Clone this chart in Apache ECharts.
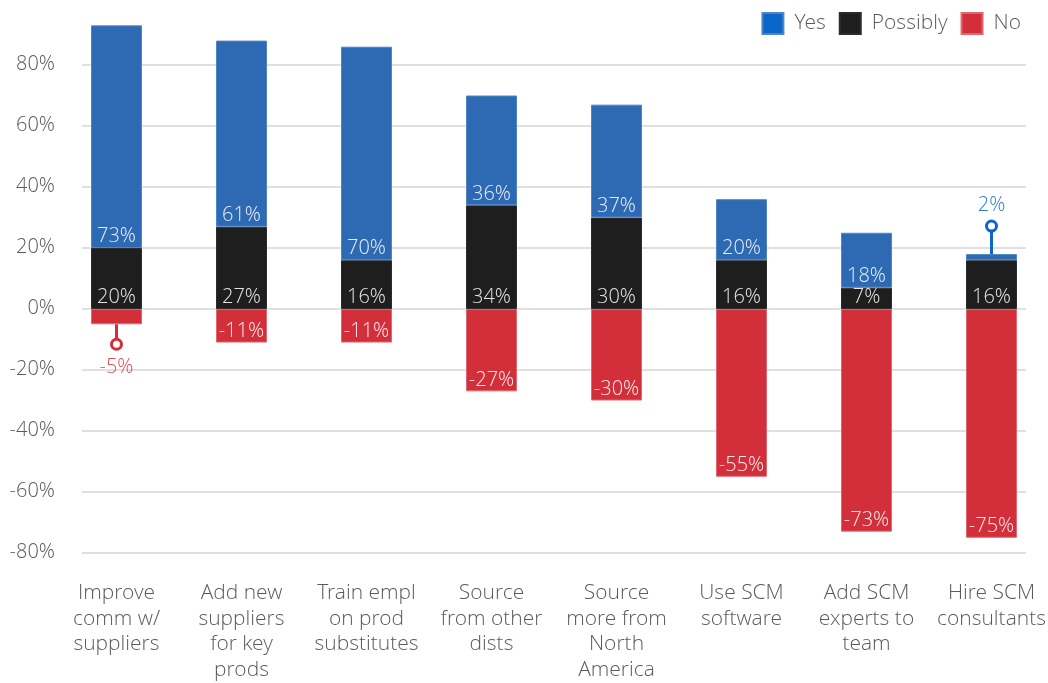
<!DOCTYPE html>
<html>
<head>
<meta charset="utf-8">
<title>Supply chain actions</title>
<script src="https://cdn.jsdelivr.net/npm/echarts@6/dist/echarts.min.js"></script>
<style>
  html, body { margin: 0; padding: 0; background: #fff; overflow: hidden; }
  /* canvas is a little wider than the window so the last category band can run past the edge */
  #chart { width: 1060px; height: 683px; }
</style>
</head>
<body>
<div id="chart"></div>
<script>
// Survey answers per planned action (percent of respondents)
const categories = [
  'Improve\ncomm w/\nsuppliers',
  'Add new\nsuppliers\nfor key\nprods',
  'Train empl\non prod\nsubstitutes',
  'Source\nfrom other\ndists',
  'Source\nmore from\nNorth\nAmerica',
  'Use SCM\nsoftware',
  'Add SCM\nexperts to\nteam',
  'Hire SCM\nconsultants'
];
const yesValues      = [73, 61, 70, 36, 37, 20, 18, 2];
const possiblyValues = [20, 27, 16, 34, 30, 16, 7, 16];
const noValues       = [-5, -11, -11, -27, -30, -55, -73, -75];
const yTicks = { min: -80, max: 80, interval: 20 };

const FONT = '"Open Sans Light", "Open Sans", "Noto Sans", sans-serif';
const C = {
  yes: '#2E6AB3', yesLegend: '#0A66C9', yesPin: '#0D66C8', yesPinText: '#2F80D8',
  possibly: '#1E1E1E',
  no: '#D32F3B', noPinText: '#E0505A',
  text: '#5a5a5a'
};
// segments too short to hold their label get a pin callout instead
const CALLOUT_MAX = 5;

const pct = v => v + '%';

function barData(values) {
  return values.map(v => ({
    value: v,
    label: { show: Math.abs(v) > CALLOUT_MAX }
  }));
}

// pin callouts built from the series values
const pinData = [];
noValues.forEach((v, i) => {
  if (Math.abs(v) <= CALLOUT_MAX) pinData.push({ value: [i, v, 1], text: pct(v), kind: 'no' });
});
yesValues.forEach((v, i) => {
  if (Math.abs(v) <= CALLOUT_MAX) pinData.push({ value: [i, possiblyValues[i] + v, -1], text: pct(v), kind: 'yes' });
});

const labelBase = {
  show: true,
  position: 'insideBottom',
  distance: 1,
  fontFamily: FONT,
  fontWeight: 300,
  fontSize: 20,
  formatter: p => pct(p.value)
};

const chart = echarts.init(document.getElementById('chart'), null, { renderer: 'canvas' });

chart.setOption({
  animation: false,
  backgroundColor: '#fff',
  legend: {
    top: 7,
    right: 34,
    itemWidth: 21,
    itemHeight: 21,
    itemGap: 13,
    icon: 'rect',
    textStyle: { fontFamily: FONT, fontWeight: 300, fontSize: 21, color: C.text, padding: [0, 0, 0, 6] },
    data: [
      { name: 'Yes', itemStyle: { color: C.yesLegend } },
      { name: 'Possibly', itemStyle: { color: C.possibly } },
      { name: 'No', itemStyle: { color: C.no } }
    ]
  },
  grid: [
    // gridlines and value labels
    { left: 82, right: 34, top: 65, bottom: 130 },
    // bars and category labels
    { left: 54, right: 6, top: 65, bottom: 130 }
  ],
  xAxis: [
    { gridIndex: 0, type: 'category', data: categories, show: false },
    {
      gridIndex: 1, type: 'category', data: categories,
      axisLine: { show: false }, axisTick: { show: false },
      axisLabel: {
        margin: 28, interval: 0, fontFamily: FONT, fontWeight: 300,
        fontSize: 21, lineHeight: 25.5, color: C.text
      }
    }
  ],
  yAxis: [
    {
      gridIndex: 0, type: 'value', min: yTicks.min, max: yTicks.max, interval: yTicks.interval,
      axisLine: { show: false }, axisTick: { show: false },
      axisLabel: {
        margin: 27, fontFamily: FONT, fontWeight: 300, fontSize: 20, color: C.text,
        formatter: v => pct(v)
      },
      splitLine: { lineStyle: { color: '#e0e0e0', width: 2 } }
    },
    {
      gridIndex: 1, type: 'value', min: yTicks.min, max: yTicks.max, interval: yTicks.interval,
      show: false, splitLine: { show: false }
    }
  ],
  series: [
    {
      name: 'Possibly', type: 'bar', stack: 'answers', xAxisIndex: 1, yAxisIndex: 1,
      barWidth: 51, clip: false,
      itemStyle: { color: C.possibly, borderColor: '#2c2c2c', borderWidth: 1 },
      label: Object.assign({}, labelBase, { color: 'rgba(255,255,255,0.88)' }),
      data: barData(possiblyValues)
    },
    {
      name: 'Yes', type: 'bar', stack: 'answers', xAxisIndex: 1, yAxisIndex: 1,
      barWidth: 51, clip: false,
      itemStyle: { color: C.yes, borderColor: '#4f85c6', borderWidth: 1 },
      label: Object.assign({}, labelBase, { color: 'rgba(255,255,255,0.88)' }),
      data: barData(yesValues)
    },
    {
      name: 'No', type: 'bar', stack: 'answers', xAxisIndex: 1, yAxisIndex: 1,
      barWidth: 51, clip: false,
      itemStyle: { color: C.no, borderColor: '#e06770', borderWidth: 1 },
      label: Object.assign({}, labelBase, { color: 'rgba(255,255,255,0.9)' }),
      data: barData(noValues)
    },
    {
      name: 'callouts', type: 'custom', xAxisIndex: 1, yAxisIndex: 1, clip: false,
      silent: true, z: 5,
      data: pinData,
      renderItem: function (params, api) {
        const item = pinData[params.dataIndex];
        const dir = api.value(2);
        const p = api.coord([api.value(0), api.value(1)]);
        const stem = dir > 0 ? 20 : 28;
        const cy = p[1] + dir * stem;
        const r = 5;
        const stroke = item.kind === 'yes' ? C.yesPin : C.no;
        const textColor = item.kind === 'yes' ? C.yesPinText : C.noPinText;
        return {
          type: 'group',
          children: [
            { type: 'line', shape: { x1: p[0], y1: p[1], x2: p[0], y2: cy - dir * r },
              style: { stroke: stroke, lineWidth: 3 } },
            { type: 'circle', shape: { cx: p[0], cy: cy, r: r },
              style: { fill: '#fff', stroke: stroke, lineWidth: 3 } },
            { type: 'text',
              style: { text: item.text, x: p[0], y: cy + dir * (dir > 0 ? 24 : 20), align: 'center', verticalAlign: 'middle',
                fill: textColor, fontFamily: FONT, fontWeight: 300, fontSize: 20 } }
          ]
        };
      }
    }
  ]
});
</script>
</body>
</html>
